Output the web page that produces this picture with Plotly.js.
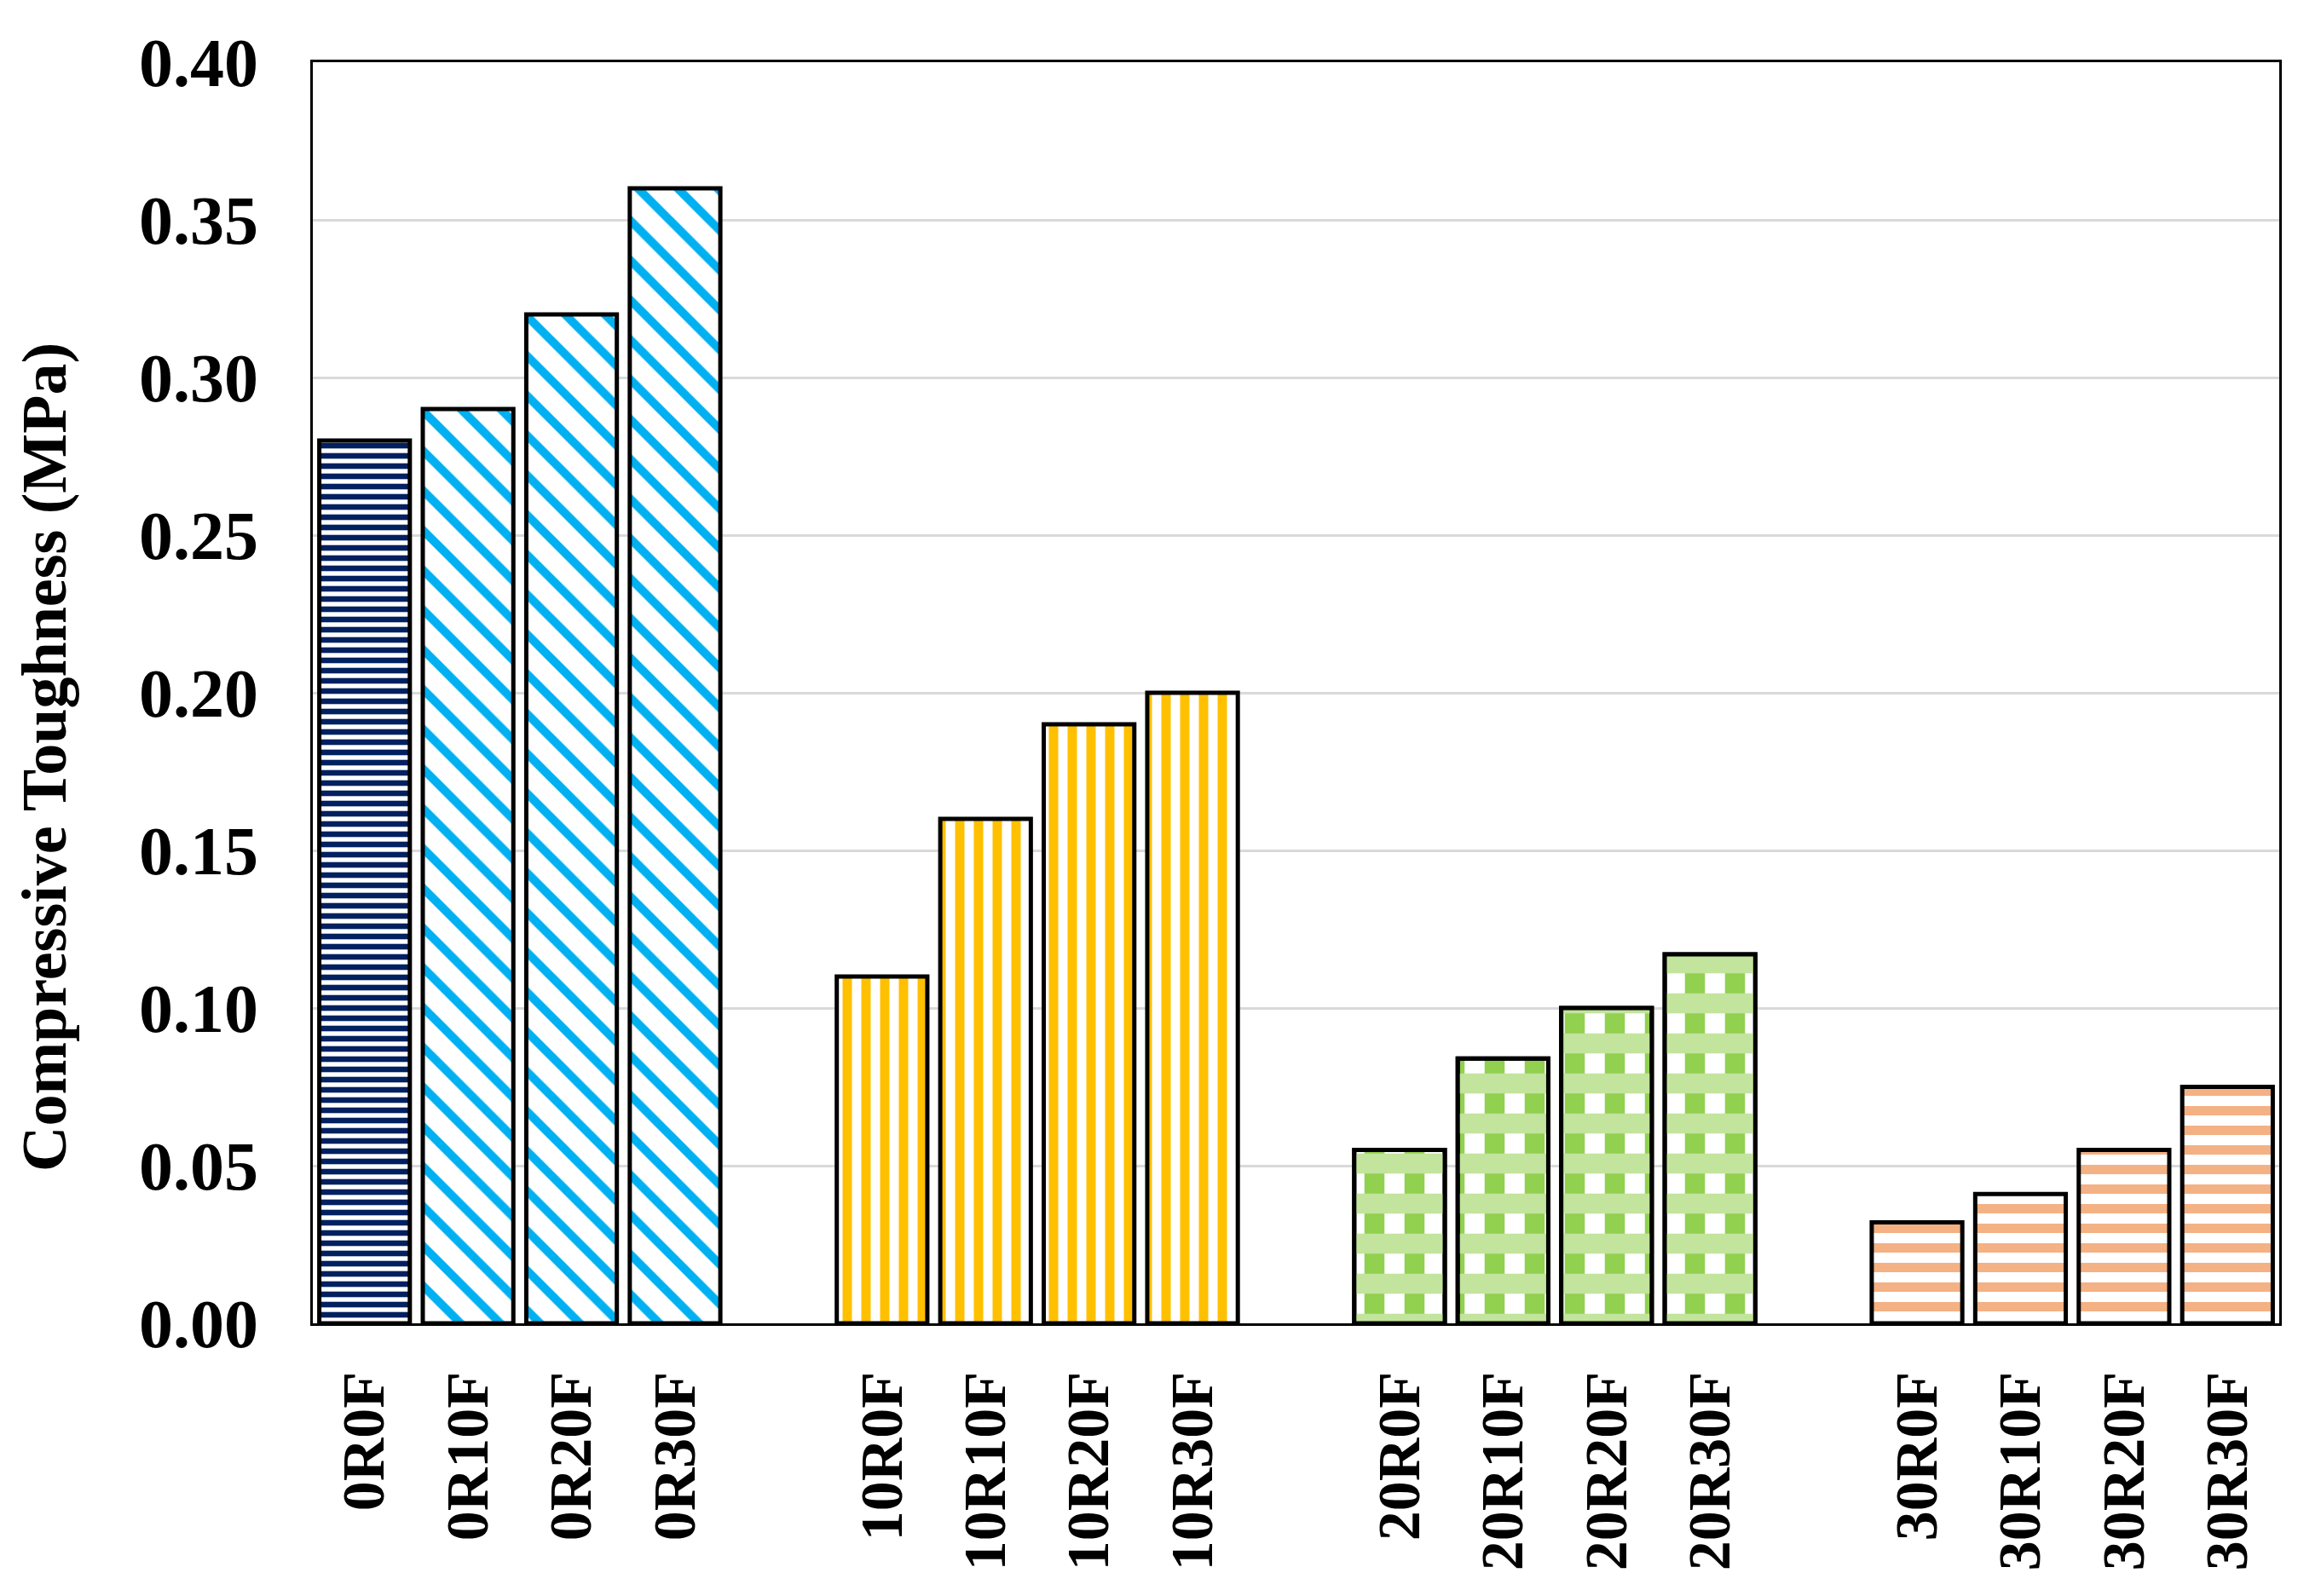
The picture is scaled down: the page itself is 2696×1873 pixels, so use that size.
<!DOCTYPE html>
<html>
<head>
<meta charset="utf-8">
<script src="https://cdn.plot.ly/plotly-3.0.1.min.js"></script>
<style>
  html, body { margin: 0; padding: 0; background: #ffffff; }
  #chart { width: 2696px; height: 1873px; }
</style>
</head>
<body>
<div id="chart"></div>
<script>
// ---- Data ----
const groupNames = ['0R', '10R', '20R', '30R'];
const labels0R  = ['0R0F', '0R10F', '0R20F', '0R30F'];
const labels10R = ['10R0F', '10R10F', '10R20F', '10R30F'];
const labels20R = ['20R0F', '20R10F', '20R20F', '20R30F'];
const labels30R = ['30R0F', '30R10F', '30R20F', '30R30F'];
const values0R  = [0.280, 0.290, 0.320, 0.360];
const values10R = [0.110, 0.160, 0.190, 0.200];
const values20R = [0.055, 0.084, 0.100, 0.117];
const values30R = [0.032, 0.041, 0.055, 0.075];
const yTickVals = [0, 0.05, 0.10, 0.15, 0.20, 0.25, 0.30, 0.35, 0.40];
const yTitle = 'Compressive Toughness (MPa)';

// ---- Layout helpers ----
const FONT = '"Liberation Serif", "Times New Roman", Times, serif';
const slotsPerGroup = 5; // 4 bars + 1 spacer
function xs(g, n) { const a = []; for (let i = 0; i < n; i++) a.push(g * slotsPerGroup + i); return a; }

const allLabels = [].concat(labels0R, labels10R, labels20R, labels30R);
const allX = [].concat(xs(0, 4), xs(1, 4), xs(2, 4), xs(3, 4));

const outline = { color: '#000000', width: 5 };
const barW = 0.875;

function barTrace(x, y, names, pattern, color) {
  return {
    type: 'bar', x: x, y: y, text: names, width: barW,
    hoverinfo: 'text+y', textposition: 'none',
    marker: { color: color || '#ffffff', line: outline, pattern: pattern },
    showlegend: false
  };
}

const x0 = xs(0, 4);
const traces = [
  barTrace([x0[0]], [values0R[0]], [labels0R[0]],
    { shape: '-', fgcolor: '#002060', bgcolor: '#ffffff', size: 12, solidity: 0.55, fillmode: 'replace' }),
  barTrace(x0.slice(1), values0R.slice(1), labels0R.slice(1),
    { shape: '\\', fgcolor: '#00B0F0', bgcolor: '#ffffff', size: 33, solidity: 0.3, fillmode: 'replace' }),
  barTrace(xs(1, 4), values10R, labels10R,
    { shape: '|', fgcolor: '#FFC000', bgcolor: '#ffffff', size: 22, solidity: 0.5, fillmode: 'replace' }),
  barTrace(xs(2, 4), values20R, labels20R,
    { shape: '|', fgcolor: '#92D050', bgcolor: '#ffffff', size: 47, solidity: 0.5, fillmode: 'replace' }),
  barTrace(xs(2, 4), values20R, labels20R,
    { shape: '-', fgcolor: '#C2E49C', bgcolor: 'rgba(0,0,0,0)', size: 47, solidity: 0.5, fillmode: 'replace' },
    'rgba(0,0,0,0)'),
  barTrace(xs(3, 4), values30R, labels30R,
    { shape: '-', fgcolor: '#F4B183', bgcolor: '#ffffff', size: 23, solidity: 0.48, fillmode: 'replace' })
];

const layout = {
  width: 2696, height: 1873,
  paper_bgcolor: '#ffffff', plot_bgcolor: '#ffffff',
  margin: { l: 367, r: 22, t: 73, b: 320, pad: 0 },
  barmode: 'overlay',
  font: { family: FONT, color: '#000000', size: 74, weight: 'bold' },
  xaxis: {
    range: [-0.5, slotsPerGroup * groupNames.length - 1.5],
    tickmode: 'array', tickvals: allX, ticktext: allLabels,
    tickangle: -90,
    tickfont: { family: FONT, size: 70, color: '#000000', weight: 'bold' },
    showgrid: false, zeroline: false,
    showline: true, linecolor: '#000000', linewidth: 3, mirror: true,
    ticks: '', ticklabelstandoff: 26
  },
  yaxis: {
    range: [0, 0.4],
    tickmode: 'array', tickvals: yTickVals,
    tickformat: '.2f',
    tickfont: { family: FONT, size: 80, color: '#000000', weight: 'bold' },
    showgrid: true, gridcolor: '#D9D9D9', gridwidth: 3,
    zeroline: false,
    showline: true, linecolor: '#000000', linewidth: 3, mirror: true,
    ticks: '', ticklabelstandoff: 45
  },
  annotations: [{
    text: yTitle, textangle: -90,
    xref: 'paper', yref: 'paper',
    x: (52 - 367) / 2307, y: (1553 - 889) / 1480,
    xanchor: 'center', yanchor: 'middle', showarrow: false,
    font: { family: FONT, size: 74, color: '#000000', weight: 'bold' }
  }]
};

Plotly.newPlot('chart', traces, layout, { staticPlot: true, displayModeBar: false });
</script>
</body>
</html>
